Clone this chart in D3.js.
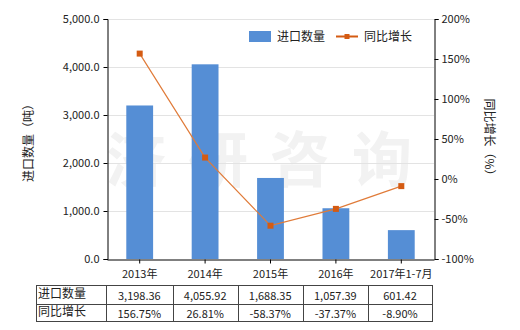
<!DOCTYPE html>
<html><head><meta charset="utf-8">
<script src="https://cdn.jsdelivr.net/npm/d3@7"></script>
<style>body{margin:0;background:#fff;}svg{display:block;font-family:"Microsoft YaHei","Noto Sans CJK SC",sans-serif;}</style>
</head><body>
<script>
const categories = ["2013年","2014年","2015年","2016年","2017年1-7月"];
const quantity = [3198.36, 4055.92, 1688.35, 1057.39, 601.42];
const growth = [156.75, 26.81, -58.37, -37.37, -8.90];
const quantityLabels = ["3,198.36","4,055.92","1,688.35","1,057.39","601.42"];
const growthLabels = ["156.75%","26.81%","-58.37%","-37.37%","-8.90%"];
const leftTicks = [0,1000,2000,3000,4000,5000];
const rightTicks = [-100,-50,0,50,100,150,200];

const W=520,H=330;
const m={l:107,r:434,t:19,b:259};
const svg=d3.select("body").append("svg").attr("width",W).attr("height",H);
const font='"Microsoft YaHei","Noto Sans CJK SC",sans-serif';

const x=d3.scaleBand().domain(categories).range([m.l,m.r]).paddingInner(0.59).paddingOuter(0.295);
const yL=d3.scaleLinear().domain([0,5000]).range([m.b,m.t]);
const yR=d3.scaleLinear().domain([-100,200]).range([m.b,m.t]);

// watermark
svg.append("text").attr("x",270).attr("y",182).attr("text-anchor","middle")
  .attr("font-size",60).attr("font-weight","bold").attr("fill","#f2f2f2").attr("letter-spacing",22)
  .text("济研咨询");

// gridlines
svg.append("g").selectAll("line").data(leftTicks.slice(1)).join("line")
  .attr("x1",m.l).attr("x2",m.r).attr("y1",d=>yL(d)+0.5).attr("y2",d=>yL(d)+0.5)
  .attr("stroke","#e3e3e3").attr("stroke-width",1);

// bars
svg.append("g").selectAll("rect").data(quantity).join("rect")
  .attr("x",(d,i)=>x(categories[i])).attr("width",x.bandwidth())
  .attr("y",d=>yL(d)).attr("height",d=>yL(0)-yL(d)).attr("fill","#558ed5");

// axes
const gl=svg.append("g").attr("transform",`translate(${m.l+0.5},0)`)
  .call(d3.axisLeft(yL).tickValues(leftTicks).tickSize(4).tickFormat(d3.format(",.1f")));
const gr=svg.append("g").attr("transform",`translate(${m.r+0.5},0)`)
  .call(d3.axisRight(yR).tickValues(rightTicks).tickSize(4).tickFormat(d=>d+"%"));
const gb=svg.append("g").attr("transform",`translate(0,${m.b+0.5})`)
  .call(d3.axisBottom(x).tickSize(4).tickSizeOuter(0));
[gl,gr,gb].forEach(g=>{
  g.selectAll("path,line").attr("stroke","#000");
  g.selectAll("text").attr("font-family",font).attr("font-size",11).attr("fill","#222");
});
gb.selectAll("text").attr("dy","1.05em");
gl.selectAll("text").attr("dx","-1");

// line
const line=d3.line().x((d,i)=>x(categories[i])+x.bandwidth()/2).y(d=>yR(d));
svg.append("path").datum(growth).attr("d",line).attr("fill","none")
  .attr("stroke","#e07b39").attr("stroke-width",1.2);
svg.append("g").selectAll("rect").data(growth).join("rect")
  .attr("x",(d,i)=>x(categories[i])+x.bandwidth()/2-3).attr("y",d=>yR(d)-3)
  .attr("width",6).attr("height",6).attr("fill","#d45b12");

// axis titles
svg.append("text").attr("transform","translate(33,140) rotate(-90)").attr("text-anchor","middle")
  .attr("font-size",12).attr("fill","#222").text("进口数量（吨）");
svg.append("text").attr("transform","translate(485,140) rotate(90)").attr("text-anchor","middle")
  .attr("font-size",12).attr("fill","#222").text("同比增长（%）");

// legend
const lg=svg.append("g");
lg.append("rect").attr("x",249).attr("y",31).attr("width",22).attr("height",11).attr("fill","#558ed5");
lg.append("text").attr("x",277).attr("y",41).attr("font-size",12).attr("fill","#222").text("进口数量");
lg.append("line").attr("x1",336).attr("x2",358).attr("y1",36.5).attr("y2",36.5).attr("stroke","#d45b12").attr("stroke-width",2);
lg.append("rect").attr("x",344.5).attr("y",34).attr("width",5).attr("height",5).attr("fill","#d45b12");
lg.append("text").attr("x",364).attr("y",41).attr("font-size",12).attr("fill","#222").text("同比增长");

// table
const tx=[36,106,172.7,237.7,302.7,368,432];
const ty=[285,304,321];
const tg=svg.append("g");
tg.append("rect").attr("x",tx[0]+0.5).attr("y",ty[0]+0.5).attr("width",tx[6]-tx[0]).attr("height",ty[2]-ty[0])
  .attr("fill","none").attr("stroke","#444");
tg.append("line").attr("x1",tx[0]).attr("x2",tx[6]).attr("y1",ty[1]+0.5).attr("y2",ty[1]+0.5).attr("stroke","#444");
tx.slice(1,6).forEach(v=>tg.append("line").attr("x1",Math.round(v)+0.5).attr("x2",Math.round(v)+0.5).attr("y1",ty[0]).attr("y2",ty[2]).attr("stroke","#444"));
const rows=[["进口数量",quantityLabels],["同比增长",growthLabels]];
rows.forEach((r,ri)=>{
  const yy=(ty[ri]+ty[ri+1])/2+4;
  tg.append("text").attr("x",tx[0]+2).attr("y",yy-1).attr("font-size",12).attr("fill","#222").text(r[0]);
  r[1].forEach((v,i)=>{
    tg.append("text").attr("x",(tx[i+1]+tx[i+2])/2).attr("y",yy+1).attr("text-anchor","middle")
      .attr("font-size",11).attr("fill","#222").text(v);
  });
});
</script>
</body></html>
